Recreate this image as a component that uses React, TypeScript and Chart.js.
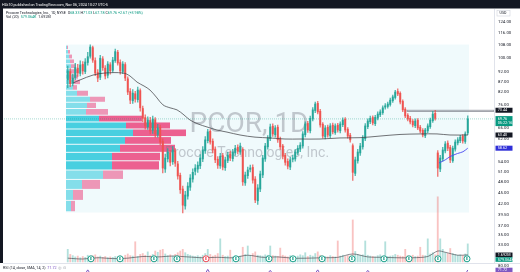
import React, { useEffect, useRef } from "react";
import { Chart, registerables } from "chart.js";

Chart.register(...registerables);

// ---------- data ----------
const opens = [88.0, 92.4, 86.3, 89.2, 94.3, 91.4, 96.4, 92.4, 97.5, 101.2,
  106.5, 98.6, 91.9, 89.3, 99.6, 94.3, 90.4, 96.2, 93.1, 98.6,
  103.6, 97.5, 92.4, 96.3, 88.5, 82.1, 77.7, 81.0, 78.2, 82.5,
  74.2, 70.3, 66.6, 69.1, 65.2, 69.4, 63.6, 66.3, 61.0, 51.8,
  55.0, 57.0, 54.1, 57.7, 53.4, 49.9, 46.0, 41.6, 44.1, 46.5,
  48.8, 51.1, 51.8, 52.8, 55.0, 57.7, 61.3, 64.8, 61.1, 58.3,
  54.9, 52.8, 56.1, 52.2, 54.5, 56.6, 55.1, 57.0, 58.9, 57.3,
  58.2, 47.7, 49.8, 51.7, 52.3, 48.8, 42.9, 46.0, 50.0, 55.0,
  59.1, 62.0, 66.8, 63.5, 66.4, 61.9, 59.4, 56.2, 54.2, 52.4,
  54.9, 55.0, 57.1, 58.3, 59.4, 63.5, 67.9, 65.0, 69.7, 73.3,
  76.5, 73.0, 67.6, 62.7, 66.4, 63.1, 67.2, 64.3, 67.2, 65.0,
  67.4, 69.6, 65.6, 63.3, 59.5, 50.5, 54.4, 57.0, 59.1, 62.0,
  66.6, 68.6, 70.3, 67.8, 70.1, 71.5, 72.4, 74.8, 75.1, 76.0,
  77.7, 79.2, 82.1, 81.2, 77.4, 73.9, 71.3, 70.0, 68.8, 67.0,
  69.2, 66.4, 65.2, 63.1, 65.0, 66.6, 69.0, 72.1, 57.0, 51.8,
  55.0, 57.7, 60.4, 58.9, 54.4, 58.3, 60.5, 61.3, 62.9, 61.0,
  64.2];
const highs = [95.5, 94.0, 91.0, 97.0, 96.5, 98.5, 98.0, 99.8, 103.5, 108.3,
  107.5, 100.2, 93.5, 101.8, 101.0, 95.8, 98.0, 97.5, 100.5, 105.6,
  104.8, 99.0, 98.0, 97.5, 89.5, 83.5, 83.0, 82.2, 84.3, 83.4,
  75.3, 71.5, 70.6, 70.4, 70.9, 70.3, 67.5, 67.2, 62.0, 56.6,
  58.5, 57.9, 59.3, 58.5, 54.2, 50.6, 46.8, 45.4, 47.8, 50.1,
  51.9, 53.2, 54.1, 56.4, 59.2, 62.8, 65.6, 65.5, 62.0, 59.1,
  55.8, 56.9, 56.9, 55.6, 57.3, 57.5, 58.2, 59.6, 59.8, 60.4,
  58.8, 50.9, 52.4, 53.0, 53.1, 49.5, 47.2, 51.2, 56.2, 60.3,
  63.2, 67.6, 67.7, 67.0, 67.2, 62.6, 60.0, 56.9, 55.0, 55.5,
  56.3, 58.1, 59.5, 60.6, 64.7, 68.6, 68.8, 70.9, 74.6, 77.1,
  77.4, 73.8, 68.3, 67.0, 67.2, 67.8, 68.0, 67.7, 67.9, 68.6,
  70.2, 70.3, 66.3, 64.0, 60.2, 55.6, 58.2, 60.3, 63.2, 67.8,
  69.8, 70.9, 71.0, 71.3, 72.7, 73.6, 75.4, 76.4, 77.1, 78.9,
  80.4, 82.7, 83.4, 81.9, 78.1, 74.6, 72.0, 70.8, 69.5, 69.8,
  69.9, 67.1, 65.9, 66.0, 67.7, 70.1, 73.0, 73.4, 57.8, 56.2,
  58.9, 61.0, 61.2, 59.6, 59.4, 61.6, 62.4, 63.3, 63.6, 64.6,
  71.03];
const lows = [84.0, 84.5, 84.8, 88.0, 89.8, 90.0, 91.0, 91.2, 96.0, 100.0,
  97.5, 90.2, 87.0, 88.0, 93.0, 88.5, 89.0, 91.0, 92.0, 97.5,
  96.0, 91.0, 91.2, 87.5, 80.5, 76.4, 76.5, 77.0, 77.0, 73.0,
  68.6, 65.6, 65.5, 63.8, 64.0, 62.5, 62.6, 59.8, 50.6, 50.8,
  54.0, 52.8, 53.2, 52.6, 48.8, 44.8, 39.9, 40.8, 43.3, 45.6,
  47.9, 50.0, 50.8, 51.9, 54.1, 56.8, 60.5, 60.0, 57.0, 53.8,
  52.0, 52.0, 51.5, 51.4, 53.8, 54.4, 54.3, 56.2, 56.7, 56.5,
  47.0, 47.0, 49.0, 50.9, 47.6, 42.4, 42.0, 45.3, 49.2, 54.2,
  58.3, 61.3, 62.9, 62.6, 60.7, 58.2, 55.0, 53.0, 51.8, 51.6,
  54.0, 54.3, 56.3, 57.4, 58.6, 62.7, 64.4, 64.2, 68.9, 72.4,
  71.8, 66.4, 62.2, 61.9, 62.6, 62.4, 63.8, 63.6, 64.5, 64.2,
  66.6, 64.5, 62.2, 60.8, 48.4, 49.8, 53.6, 56.2, 58.3, 61.3,
  65.8, 67.8, 67.3, 67.0, 69.3, 70.7, 71.6, 73.9, 74.3, 75.2,
  76.9, 78.4, 80.1, 76.3, 72.8, 70.3, 68.9, 67.7, 66.5, 66.2,
  65.4, 64.2, 62.7, 62.4, 64.3, 65.9, 68.3, 69.2, 49.6, 51.0,
  54.3, 57.0, 57.8, 53.8, 53.9, 57.6, 59.8, 60.6, 60.4, 60.3,
  63.5];
const closes = [92.7, 86.0, 88.9, 94.6, 91.6, 96.1, 92.7, 97.8, 100.9, 106.9,
  98.9, 91.6, 88.9, 100.0, 94.6, 90.0, 96.6, 92.7, 98.9, 104.0,
  97.2, 92.7, 96.6, 88.9, 81.8, 78.0, 81.3, 78.5, 82.8, 74.5,
  70.0, 66.9, 69.3, 64.9, 69.7, 63.8, 66.1, 60.8, 52.1, 55.3,
  57.3, 53.9, 58.0, 53.6, 49.7, 45.8, 41.8, 44.4, 46.8, 49.1,
  50.8, 52.1, 53.0, 55.3, 58.0, 61.6, 64.6, 60.8, 58.0, 54.7,
  53.0, 55.9, 52.4, 54.7, 56.3, 55.3, 57.3, 58.6, 57.6, 59.4,
  48.0, 50.0, 51.5, 52.1, 48.5, 43.1, 46.3, 50.3, 55.3, 59.4,
  62.3, 66.5, 63.8, 66.1, 61.6, 59.1, 55.9, 53.9, 52.7, 54.7,
  55.3, 57.3, 58.6, 59.7, 63.8, 67.7, 65.3, 70.0, 73.6, 76.2,
  72.7, 67.3, 63.0, 66.1, 63.4, 66.9, 64.6, 66.9, 65.3, 67.7,
  69.3, 65.3, 63.0, 61.6, 50.8, 54.7, 57.3, 59.4, 62.3, 66.9,
  68.9, 70.0, 68.1, 70.4, 71.8, 72.7, 74.5, 75.4, 76.2, 78.0,
  79.5, 81.8, 80.9, 77.1, 73.6, 71.0, 69.7, 68.5, 67.3, 68.9,
  66.1, 64.9, 63.4, 65.3, 66.9, 69.3, 71.8, 70.0, 52.1, 55.3,
  58.0, 60.1, 58.6, 54.7, 58.6, 60.8, 61.6, 62.6, 61.2, 63.8,
  69.76];
// volume in millions of shares
const volumes = [3.0, 1.8, 1.5, 1.2, 1.4, 1.0, 1.3, 1.1, 1.6, 1.4,
  1.5, 1.7, 1.2, 1.4, 1.1, 1.3, 1.0, 1.2, 1.1, 1.3,
  1.2, 1.4, 1.0, 1.6, 1.9, 1.5, 1.4, 4.8, 1.3, 1.8,
  2.0, 1.6, 2.4, 1.5, 1.8, 2.6, 2.3, 2.8, 3.0, 1.9,
  1.5, 1.7, 1.4, 1.8, 2.2, 2.6, 3.0, 2.2, 1.8, 1.6,
  1.4, 1.3, 1.5, 1.2, 1.6, 2.0, 3.0, 1.8, 1.4, 1.6,
  2.0, 5.5, 1.6, 1.3, 1.4, 2.8, 1.2, 1.5, 1.3, 1.4,
  3.5, 1.8, 3.8, 1.5, 2.0, 2.4, 1.6, 1.5, 1.4, 1.7,
  1.6, 3.8, 1.5, 1.4, 1.3, 3.3, 1.6, 1.4, 1.2, 1.5,
  1.3, 1.2, 1.4, 1.7, 1.5, 2.2, 1.3, 1.6, 1.4, 2.0,
  2.4, 1.6, 1.4, 1.3, 1.2, 1.5, 1.3, 1.2, 5.0, 1.4,
  1.6, 1.3, 1.5, 1.4, 10.0, 2.5, 1.8, 1.6, 1.7, 5.0,
  1.6, 1.4, 1.3, 1.2, 1.5, 1.7, 1.4, 4.8, 1.3, 1.4,
  1.5, 1.8, 1.6, 1.4, 1.3, 3.0, 1.5, 1.4, 1.6, 1.3,
  1.4, 3.5, 1.6, 1.5, 5.5, 1.9, 2.2, 1.7, 15.5, 5.5,
  3.0, 2.2, 2.0, 3.2, 2.0, 1.8, 1.6, 1.7, 1.5, 1.9,
  4.3];
const volMaIdx = [0, 6, 12, 18, 24, 30, 36, 42, 48, 54, 60, 66, 72, 78, 84, 90, 96, 102, 108, 114, 120, 126, 132, 138, 144, 148, 151, 156, 160];
const volMaVals = [0.9, 0.7, 1.0, 0.8, 0.9, 1.3, 1.2, 1.4, 1.2, 1.0, 1.1, 1.0, 1.6, 1.1, 1.2, 0.9, 0.9, 1.0, 1.1, 1.9, 1.2, 1.1, 1.0, 1.0, 1.3, 2.6, 2.3, 1.6, 1.692];
const avwapIdx = [2.1, 4.9, 10.1, 14.9, 22.1, 24.9, 27.7, 30.5, 32.9, 35.7, 38.1, 40.9, 43.7, 46.5, 48.9, 52.1, 55.7, 59.7, 63.7, 68.9, 74.9, 80.9, 86.9, 92.9, 100.9, 108.9, 116.9, 124.9, 132.9, 140.9, 147.7, 152.9, 160.1];
const avwapVals = [86.3, 87.9, 90.5, 91.6, 91.6, 90.0, 86.8, 84.8, 82.8, 79.0, 75.8, 74.5, 73.6, 71.4, 69.3, 67.7, 66.5, 65.3, 64.5, 63.4, 62.6, 62.3, 61.9, 61.9, 61.9, 62.3, 62.4, 63.0, 63.6, 63.8, 63.8, 63.4, 63.4];
const blueIdx = [148.5, 151, 153, 155.9, 158.1, 160];
const blueVals = [53.7, 54.7, 55.8, 56.8, 57.4, 58.62];
const rsiIdx = [7, 8, 9, 55, 56, 57, 80, 81, 82, 99, 100, 101, 119, 120, 121, 159, 160];
const rsiVals = [64, 72, 64, 64, 73, 64, 65, 71, 64, 65, 72, 63, 64, 71, 65, 62, 71.72];
const earningsIdx = [9.3, 20.9, 34.5, 43.7, 55.3, 67.3, 80.5, 90.1, 101.7, 113.7, 126.5, 136.5, 148.1, 159.7];
const earningsBeat = [1, 1, 1, 1, 0, 1, 1, 1, 1, 1, 1, 1, 1, 1];
// volume profile (rows of equal price height), millions of shares
const vpEdges = [40.2, 43.0, 45.9, 48.7, 51.5, 54.4, 57.2, 60.0, 62.8, 65.7, 68.5, 71.3, 74.2, 77.0, 79.8, 82.7, 85.5, 88.3, 91.1, 94.0, 96.8, 99.6, 102.5, 105.3, 108.1];
const vpUp = [6.5, 9.1, 20.8, 48.1, 59.8, 59.8, 70.2, 76.7, 87.1, 78.0, 42.9, 26.0, 27.3, 31.2, 14.3, 9.1, 10.4, 7.8, 6.5, 6.5, 5.2, 3.9, 2.6, 1.3];
const vpDown = [5.2, 13.0, 23.4, 26.0, 61.1, 62.4, 71.5, 59.8, 68.9, 57.2, 55.9, 28.6, 11.7, 19.5, 14.3, 5.2, 7.8, 7.8, 7.8, 6.5, 5.2, 3.9, 2.6, 1.3];
const vpValueArea = [0, 0, 0, 0, 1, 1, 1, 1, 1, 1, 1, 0, 0, 0, 0, 0, 0, 0, 0, 0, 0, 0, 0, 0];
const priceTicks = [124, 116, 108, 100, 92, 87, 82, 76, 66, 62, 54, 51, 48, 45, 42, 39.5, 37, 35, 33];
const rangeBox = { from: -0.7, to: 160.5, top: 108.5, bottom: 40.0 };
const levelBox = { from: 135.7, to: 170.5, top: 73.44, bottom: 72.9 };
const lastO = 68.33, lastH = 71.03, lastL = 67.78, lastC = 69.76, chg = 2.67, chgPct = 3.98;
const avwapLast = 63.40;
const blueLast = 58.62;
const volLast = 0.579064;
const volMaLast = 1.692;
const rsiLast = 71.72;

const GREEN = "#26a69a";
const RED = "#ef5350";
const TXT = "#131722";
const FONT = "Roboto";

export default function App() {
  const ref = useRef<HTMLCanvasElement>(null);

  useEffect(() => {
    const canvas = ref.current;
    if (!canvas) return;
    const isUp = (i: number) => closes[i] >= opens[i];

    const bodies = closes.map((c, i) => ({ x: i, y: [Math.min(opens[i], c), Math.max(opens[i], c)] }));
    const wicks = closes.map((c, i) => ({ x: i, y: [lows[i], highs[i]] }));
    const vols = volumes.map((v, i) => ({ x: i, y: v }));
    const volMa = volMaIdx.map((x, i) => ({ x, y: volMaVals[i] }));
    const avwap = avwapIdx.map((x, i) => ({ x, y: avwapVals[i] }));
    const blue = blueIdx.map((x, i) => ({ x, y: blueVals[i] }));
    const rsi = rsiIdx.map((x, i) => ({ x, y: rsiVals[i] }));

    const segs = (ctx: CanvasRenderingContext2D, x: number, y: number, parts: [string, string][]) => {
      let cx = x;
      for (const [t, c] of parts) {
        ctx.fillStyle = c;
        ctx.fillText(t, cx, y);
        cx += ctx.measureText(t).width;
      }
    };

    const decor = {
      id: "tvDecor",
      beforeDraw(chart: any) {
        const ctx = chart.ctx;
        ctx.save();
        ctx.fillStyle = "#ffffff";
        ctx.fillRect(0, 0, chart.width, chart.height);
        ctx.restore();
      },
      beforeDatasetsDraw(chart: any) {
        const { ctx, chartArea: ca, scales } = chart;
        const x = scales.x, y = scales.y, xv = scales.xVP;
        ctx.save();
        ctx.beginPath();
        ctx.rect(ca.left, ca.top, ca.right - ca.left, ca.bottom - ca.top);
        ctx.clip();
        // highlighted date range
        const bx0 = x.getPixelForValue(rangeBox.from), bx1 = x.getPixelForValue(rangeBox.to);
        const by0 = y.getPixelForValue(rangeBox.top), by1 = y.getPixelForValue(rangeBox.bottom);
        ctx.fillStyle = "rgba(0,172,210,0.06)";
        ctx.fillRect(bx0, by0, bx1 - bx0, by1 - by0);
        // volume profile
        for (let r = 0; r < vpUp.length; r++) {
          const yT = y.getPixelForValue(vpEdges[r + 1]);
          const yB = y.getPixelForValue(vpEdges[r]);
          const x0 = xv.getPixelForValue(0);
          const x1 = xv.getPixelForValue(vpUp[r]);
          const x2 = xv.getPixelForValue(vpUp[r] + vpDown[r]);
          const va = vpValueArea[r] === 1;
          ctx.fillStyle = va ? "rgba(0,188,212,0.7)" : "rgba(0,188,212,0.45)";
          ctx.fillRect(x0, yT + 0.5, x1 - x0, yB - yT - 1);
          ctx.fillStyle = va ? "rgba(233,30,99,0.7)" : "rgba(233,30,99,0.45)";
          ctx.fillRect(x1, yT + 0.5, x2 - x1, yB - yT - 1);
        }
        // watermark
        const cx = (ca.left + ca.right) / 2;
        ctx.fillStyle = "rgba(120,123,134,0.4)";
        ctx.textAlign = "center";
        ctx.textBaseline = "alphabetic";
        ctx.font = `28px ${FONT}`;
        ctx.fillText("PCOR, 1D", cx, ca.top + 122.5);
        ctx.font = `14px ${FONT}`;
        ctx.fillText("Procore Technologies, Inc.", cx - 2, ca.top + 148);
        // level box (73.44)
        const lx0 = x.getPixelForValue(levelBox.from), lx1 = x.getPixelForValue(levelBox.to);
        const ly0 = y.getPixelForValue(levelBox.top), ly1 = y.getPixelForValue(levelBox.bottom);
        ctx.strokeStyle = "rgba(120,123,134,0.85)";
        ctx.lineWidth = 0.8;
        ctx.strokeRect(lx0, ly0, lx1 - lx0, ly1 - ly0);
        ctx.restore();
      },
      afterDatasetsDraw(chart: any) {
        const { ctx, chartArea: ca, scales } = chart;
        const x = scales.x;
        ctx.save();
        earningsIdx.forEach((e, k) => {
          const px = x.getPixelForValue(e);
          const py = ca.bottom - 4.2;
          const col = earningsBeat[k] ? "#089981" : "#f23645";
          ctx.beginPath();
          ctx.arc(px, py, 3, 0, Math.PI * 2);
          ctx.fillStyle = "#ffffff";
          ctx.fill();
          ctx.lineWidth = 0.9;
          ctx.strokeStyle = col;
          ctx.stroke();
          ctx.fillStyle = col;
          ctx.font = `bold 3.6px ${FONT}`;
          ctx.textAlign = "center";
          ctx.textBaseline = "middle";
          ctx.fillText("E", px, py + 0.2);
        });
        ctx.restore();
      },
      afterDraw(chart: any) {
        const { ctx, chartArea: ca, scales } = chart;
        const y = scales.y, yv = scales.yVol, yr = scales.yRsi;
        const W = chart.width;
        ctx.save();
        // frame
        ctx.fillStyle = "#131722";
        ctx.fillRect(0, 0, W, 8.5);
        ctx.fillRect(0, 0, 3, ca.bottom);
        ctx.fillStyle = "#ffffff";
        ctx.font = `3.7px ${FONT}`;
        ctx.textAlign = "left";
        ctx.textBaseline = "middle";
        ctx.fillText("HLk10 published on TradingView.com, Nov 06, 2024 10:27 UTC-5", 2, 4.6);
        // pane separator
        ctx.strokeStyle = "#e0e3eb";
        ctx.lineWidth = 1;
        ctx.beginPath();
        ctx.moveTo(3, ca.bottom + 0.5);
        ctx.lineTo(W, ca.bottom + 0.5);
        ctx.stroke();
        // legend
        ctx.font = `3.7px ${FONT}`;
        ctx.textBaseline = "middle";
        const G = "#089981";
        segs(ctx, 6, 12.6, [
          ["Procore Technologies, Inc., 1D, NYSE  ", TXT],
          ["O", TXT], [lastO.toFixed(2) + " ", G],
          ["H", TXT], [lastH.toFixed(2) + " ", G],
          ["L", TXT], [lastL.toFixed(2) + " ", G],
          ["C", TXT], [lastC.toFixed(2) + " ", G],
          ["+" + chg.toFixed(2) + " (+" + chgPct.toFixed(2) + "%)", G],
        ]);
        segs(ctx, 6, 17.3, [
          ["Vol (20)  ", TXT],
          [(volLast * 1000).toFixed(3) + "K  ", G],
          [volMaLast.toFixed(3) + "M", TXT],
        ]);
        // RSI legend
        segs(ctx, 3, 268.3, [
          ["RSI (14, close, SMA, 14, 2)  ", TXT],
          [rsiLast.toFixed(2), "#7e57c2"],
          ["  \u25CE  \u2299", "#9598a1"],
        ]);
        // USD box
        const ax = ca.right + 1.5;
        ctx.strokeStyle = "#d1d4dc";
        ctx.lineWidth = 0.6;
        ctx.strokeRect(ax + 1.5, 10.5, 13, 5.5);
        ctx.fillStyle = TXT;
        ctx.fillText("USD", ax + 4, 13.4);
        // axis label boxes
        const box = (py: number, text: string, bg: string, h = 5, text2?: string) => {
          ctx.fillStyle = bg;
          if (text2) {
            ctx.fillRect(ax, py - 2.8, 17, 10);
          } else {
            ctx.fillRect(ax, py - h / 2, 17, h);
          }
          ctx.fillStyle = "#ffffff";
          ctx.font = `3.8px ${FONT}`;
          ctx.textAlign = "left";
          ctx.textBaseline = "middle";
          ctx.fillText(text, ax + 2.2, py + 0.2);
          if (text2) ctx.fillText(text2, ax + 2.2, py + 4.6);
        };
        box(y.getPixelForValue(levelBox.top), levelBox.top.toFixed(2), "#131722");
        box(y.getPixelForValue(lastC), lastC.toFixed(2), "#089981", 5, "05:22:16");
        box(y.getPixelForValue(avwapLast), avwapLast.toFixed(2), "#131722");
        box(y.getPixelForValue(blueLast), blueLast.toFixed(2), "#2f2fd8");
        box(yv.getPixelForValue(volMaLast), volMaLast.toFixed(3) + "M", "#131722", 4.6);
        box(yv.getPixelForValue(volLast), (volLast * 1000).toFixed(3) + "K", "#089981", 4.6);
        ctx.fillStyle = TXT;
        ctx.font = `4.3px ${FONT}`;
        ctx.fillText((80).toFixed(2), ax + 2.5, yr.getPixelForValue(80));
        box(yr.getPixelForValue(rsiLast), rsiLast.toFixed(2), "#7e57c2", 4.6);
        ctx.restore();
      },
    };

    const chart = new Chart(canvas, {
      type: "bar",
      data: {
        datasets: [
          {
            type: "line", label: "RSI", data: rsi, xAxisID: "x", yAxisID: "yRsi",
            borderColor: "#7e57c2", borderWidth: 1, pointRadius: 0, spanGaps: 1.5, clip: false as any,
          } as any,
          {
            type: "line", label: "AVWAP 2", data: blue, xAxisID: "x", yAxisID: "y",
            borderColor: "#4a4af0", borderWidth: 0.9, pointRadius: 0, tension: 0.3,
          },
          {
            type: "line", label: "AVWAP", data: avwap, xAxisID: "x", yAxisID: "y",
            borderColor: "rgba(60,60,64,0.8)", borderWidth: 0.9, pointRadius: 0, tension: 0.35,
          },
          {
            type: "bar", label: "Bodies", data: bodies as any, xAxisID: "x", yAxisID: "y",
            backgroundColor: (c: any) => (isUp(c.dataIndex) ? GREEN : RED),
            barThickness: 1.3, grouped: false, minBarLength: 1, borderWidth: 0,
          } as any,
          {
            type: "bar", label: "Wicks", data: wicks as any, xAxisID: "x", yAxisID: "y",
            backgroundColor: (c: any) => (isUp(c.dataIndex) ? "rgba(38,166,154,0.8)" : "rgba(239,83,80,0.8)"),
            barThickness: 0.7, grouped: false, borderWidth: 0,
          } as any,
          {
            type: "line", label: "Last", data: [{ x: -25.5, y: lastC }, { x: 170.5, y: lastC }],
            xAxisID: "x", yAxisID: "y", borderColor: "rgba(8,153,129,0.35)", borderWidth: 1,
            borderDash: [1, 1], pointRadius: 0,
          },
          {
            type: "line", label: "Vol MA", data: volMa, xAxisID: "x", yAxisID: "yVol",
            borderColor: "rgba(70,70,75,0.8)", borderWidth: 0.8, pointRadius: 0, tension: 0.3,
          },
          {
            type: "bar", label: "Volume", data: vols as any, xAxisID: "x", yAxisID: "yVol",
            backgroundColor: (c: any) => (isUp(c.dataIndex) ? "rgba(38,166,154,0.35)" : "rgba(239,83,80,0.35)"),
            barThickness: 1.2, grouped: false, borderWidth: 0,
          } as any,
        ],
      },
      options: {
        animation: false,
        responsive: false,
        devicePixelRatio: 1,
        layout: { padding: { left: 4, top: 9, right: 0, bottom: 9 } },
        plugins: { legend: { display: false }, tooltip: { enabled: false } },
        scales: {
          x: { type: "linear", axis: "x", display: false, min: -25.5, max: 170.5, offset: false, bounds: "data" } as any,
          xVP: { type: "linear", axis: "x", display: false, min: -80.6, max: 556.4, offset: false, bounds: "data" } as any,
          y: {
            type: "logarithmic",
            position: "right",
            min: 29.65,
            max: 133.96,
            bounds: "data",
            grid: { display: false, drawTicks: false },
            border: { display: true, color: "#e0e3eb", width: 1 },
            afterBuildTicks: (s: any) => {
              s.ticks = priceTicks.map((v) => ({ value: v }));
            },
            afterFit: (s: any) => {
              s.width = 26;
            },
            ticks: {
              autoSkip: false,
              padding: 4,
              color: TXT,
              font: { size: 4.3, family: FONT },
              callback: (v: any) => Number(v).toFixed(2),
            },
          } as any,
          yVol: { type: "linear", axis: "y", display: false, min: -0.25, max: 60.2, bounds: "data" } as any,
          yRsi: { type: "linear", axis: "y", display: false, min: 86.21, max: 612.0, bounds: "data" } as any,
        },
      },
      plugins: [decor],
    });

    return () => chart.destroy();
  }, []);

  return (
    <div style={{ position: "fixed", left: 0, top: 0, width: 520, height: 272, background: "#fff" }}>
      <canvas ref={ref} width={520} height={272} style={{ display: "block", width: 520, height: 272 }} />
    </div>
  );
}
